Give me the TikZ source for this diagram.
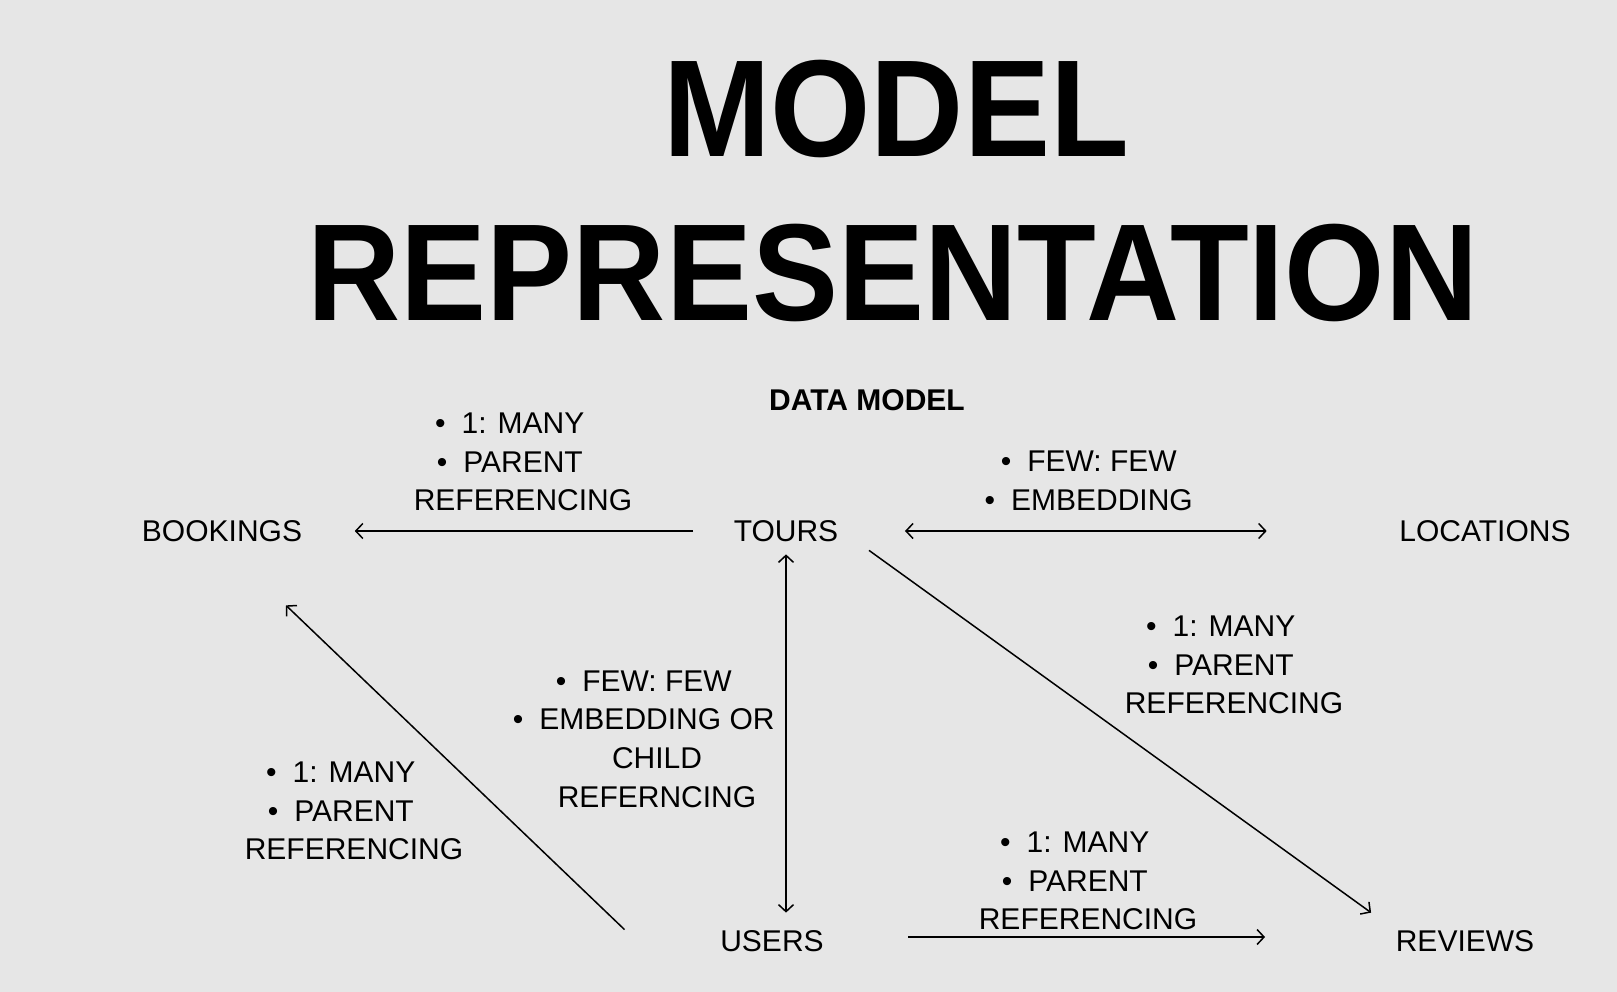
\documentclass[tikz,border=0pt]{standalone}
\usepackage{fontspec}
\setmainfont{Liberation Sans}
\usepackage{tikz}
\usetikzlibrary{positioning, calc, arrows.meta}
\definecolor{bggray}{RGB}{230,230,230}
\newcommand{\bul}{\llap{\textbullet\hspace{16pt}}}

\begin{document}
\begin{tikzpicture}[x=1pt, y=-1pt, line width=1.5pt,
    entity/.style={inner sep=0pt, font=\fontsize{30}{38.7}\selectfont},
    rel/.style={inner sep=0pt, align=center, font=\fontsize{30}{38.7}\selectfont},
    link/.style={-{Straight Barb[length=7pt,width=15pt]}},
    twoway/.style={{Straight Barb[length=7pt,width=15pt]}-{Straight Barb[length=7pt,width=15pt]}}]

    % --- Background ---
    \fill[bggray] (0,0) rectangle (1617,992);

    % --- Title ---
    \node[anchor=base, font=\bfseries\fontsize{129}{129}\selectfont] (title-top) at (896,157) {\scalebox{1}[1.07]{MODEL}};
    \node[anchor=base, font=\bfseries\fontsize{129}{129}\selectfont] (title-bottom) at (893,320) {\scalebox{1}[1.07]{REPRESENTATION}};
    \node[entity, font=\bfseries\fontsize{30}{38.7}\selectfont] (subtitle) at (867,400) {DATA MODEL};

    % --- Entities ---
    \node[entity] (bookings) at (222,531) {BOOKINGS};
    \node[entity] (tours) at (786,531) {TOURS};
    \node[entity] (locations) at (1485,531) {LOCATIONS};
    \node[entity] (users) at (772,941) {USERS};
    \node[entity] (reviews) at (1465,941) {REVIEWS};

    % --- Relation labels ---
    \node[rel] (tb-label) at (523,462) {\bul 1: MANY\\ \bul PARENT\\ REFERENCING};
    \node[rel] (tl-label) at (1102,481) {\bul FEW: FEW\\ \bul EMBEDDING};
    \node[rel] (tu-label) at (657,739) {\bul FEW: FEW\\ \bul EMBEDDING OR\\ CHILD\\ REFERNCING};
    \node[rel] (ub-label) at (354,811) {\bul 1: MANY\\ \bul PARENT\\ REFERENCING};
    \node[rel] (tr-label) at (1234,665) {\bul 1: MANY\\ \bul PARENT\\ REFERENCING};
    \node[rel] (ur-label) at (1088,881) {\bul 1: MANY\\ \bul PARENT\\ REFERENCING};

    % --- Tours -> Bookings ---
    \draw[link, shorten <=40pt, shorten >=52pt] (tours) -- (bookings);

    % --- Tours <-> Locations ---
    \draw[twoway, shorten <=66pt, shorten >=132pt] (tours) -- (locations);

    % --- Tours <-> Users ---
    \coordinate (users-top) at (tours.south |- users.north);
    \draw[twoway] ([yshift=-12pt]tours.south) -- ([yshift=17pt]users-top);

    % --- Users -> Bookings ---
    \coordinate (ub-start) at ([xshift=-95pt]users.north west);
    \coordinate (ub-end) at ([xshift=64pt,yshift=-63pt]bookings.south);
    \draw[link] (ub-start) -- (ub-end);

    % --- Tours -> Reviews ---
    \coordinate (tr-start) at ([xshift=30pt,yshift=-8pt]tours.south east);
    \coordinate (tr-end) at ([xshift=-24pt,yshift=17pt]reviews.north west);
    \draw[link] (tr-start) -- (tr-end);

    % --- Users -> Reviews ---
    \draw[link, shorten <=84pt, shorten >=130pt] ([yshift=4pt]users.east) -- ([yshift=4pt]reviews.west);

\end{tikzpicture}
\end{document}
